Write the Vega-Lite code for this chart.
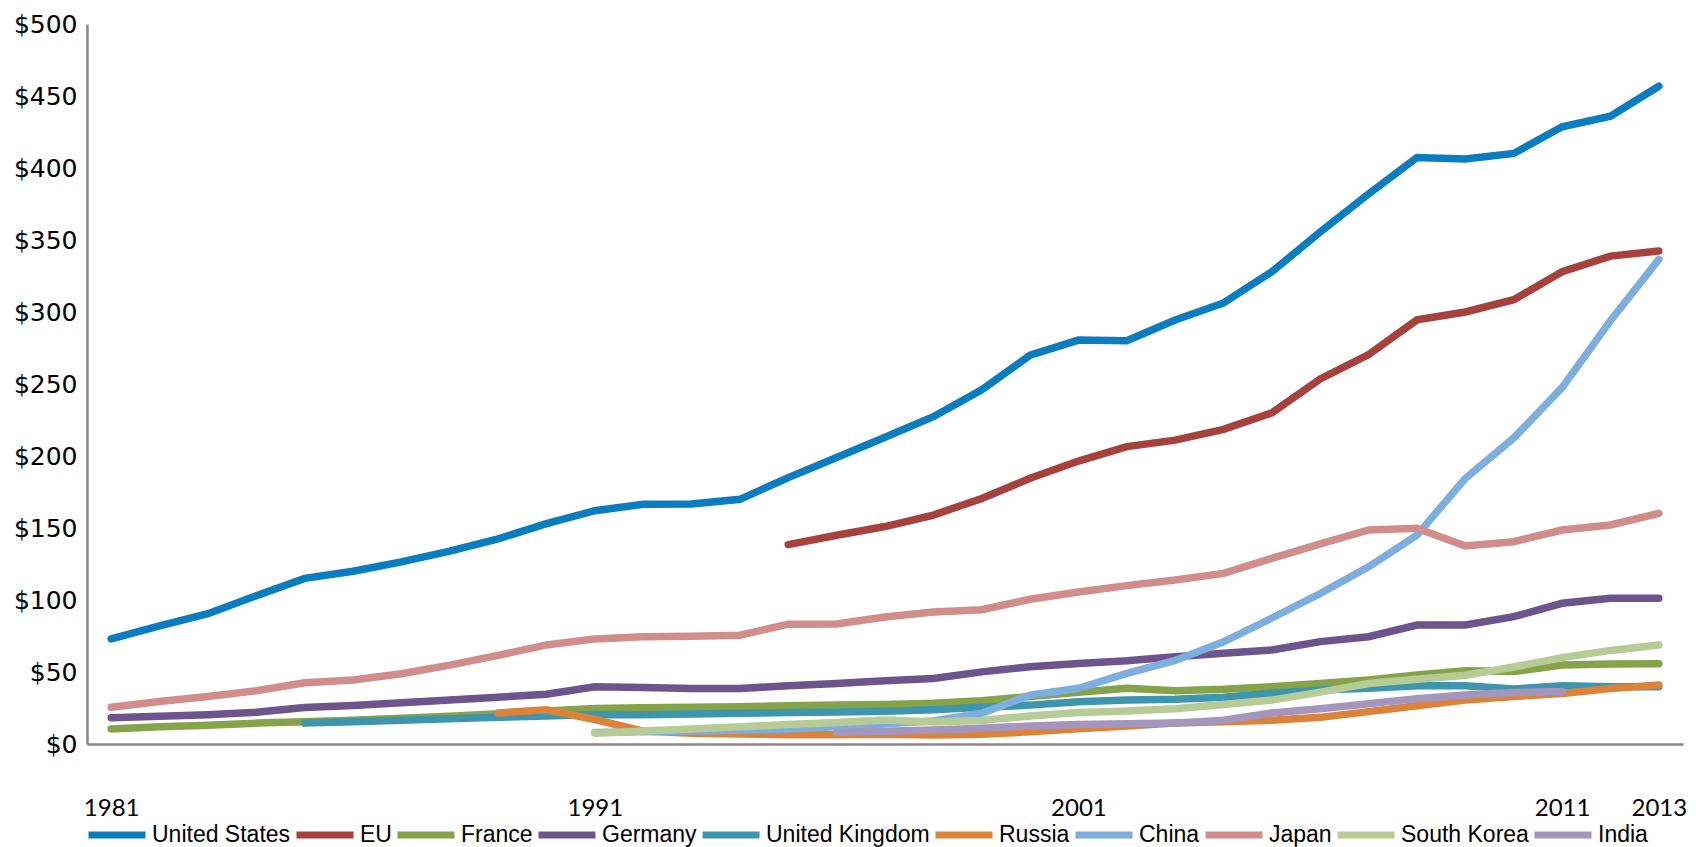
{
  "$schema": "https://vega.github.io/schema/vega-lite/v6.json",
  "width": 1596,
  "height": 720,
  "autosize": {"type": "none"},
  "padding": {"left": 87, "top": 24, "right": 13, "bottom": 103},
  "background": "white",
  "config": {"view": {"stroke": null}},
  "datasets": {
    "rd": [
      {"country":"United States","year":1981,"value":73},{"country":"United States","year":1982,"value":82},{"country":"United States","year":1983,"value":90.5},{"country":"United States","year":1984,"value":103},{"country":"United States","year":1985,"value":115},{"country":"United States","year":1986,"value":120},{"country":"United States","year":1987,"value":126.5},{"country":"United States","year":1988,"value":134},{"country":"United States","year":1989,"value":142.5},{"country":"United States","year":1990,"value":153},{"country":"United States","year":1991,"value":162},{"country":"United States","year":1992,"value":166.5},{"country":"United States","year":1993,"value":166.6},{"country":"United States","year":1994,"value":169.9},{"country":"United States","year":1995,"value":185},{"country":"United States","year":1996,"value":199},{"country":"United States","year":1997,"value":213},{"country":"United States","year":1998,"value":227.3},{"country":"United States","year":1999,"value":246},{"country":"United States","year":2000,"value":270},{"country":"United States","year":2001,"value":280.5},{"country":"United States","year":2002,"value":280},{"country":"United States","year":2003,"value":294.4},{"country":"United States","year":2004,"value":306.3},{"country":"United States","year":2005,"value":328},{"country":"United States","year":2006,"value":355.6},{"country":"United States","year":2007,"value":382},{"country":"United States","year":2008,"value":407.3},{"country":"United States","year":2009,"value":406.2},{"country":"United States","year":2010,"value":410.1},{"country":"United States","year":2011,"value":428.6},{"country":"United States","year":2012,"value":436},{"country":"United States","year":2013,"value":456.8},
      {"country":"EU","year":1995,"value":138.5},{"country":"EU","year":1996,"value":145},{"country":"EU","year":1997,"value":151},{"country":"EU","year":1998,"value":159},{"country":"EU","year":1999,"value":170.5},{"country":"EU","year":2000,"value":184.5},{"country":"EU","year":2001,"value":196.5},{"country":"EU","year":2002,"value":206.5},{"country":"EU","year":2003,"value":211},{"country":"EU","year":2004,"value":218.5},{"country":"EU","year":2005,"value":230},{"country":"EU","year":2006,"value":253.5},{"country":"EU","year":2007,"value":270.5},{"country":"EU","year":2008,"value":294.5},{"country":"EU","year":2009,"value":300},{"country":"EU","year":2010,"value":308.5},{"country":"EU","year":2011,"value":328},{"country":"EU","year":2012,"value":338.8},{"country":"EU","year":2013,"value":342.3},
      {"country":"France","year":1981,"value":10.5},{"country":"France","year":1982,"value":12},{"country":"France","year":1983,"value":13},{"country":"France","year":1984,"value":14.5},{"country":"France","year":1985,"value":15.5},{"country":"France","year":1986,"value":16.5},{"country":"France","year":1987,"value":17.8},{"country":"France","year":1988,"value":19.2},{"country":"France","year":1989,"value":21},{"country":"France","year":1990,"value":23},{"country":"France","year":1991,"value":24.7},{"country":"France","year":1992,"value":25.2},{"country":"France","year":1993,"value":25.6},{"country":"France","year":1994,"value":25.9},{"country":"France","year":1995,"value":26.5},{"country":"France","year":1996,"value":27},{"country":"France","year":1997,"value":27.5},{"country":"France","year":1998,"value":28.3},{"country":"France","year":1999,"value":30},{"country":"France","year":2000,"value":33},{"country":"France","year":2001,"value":36},{"country":"France","year":2002,"value":38.7},{"country":"France","year":2003,"value":37},{"country":"France","year":2004,"value":38},{"country":"France","year":2005,"value":39.8},{"country":"France","year":2006,"value":42.1},{"country":"France","year":2007,"value":44.4},{"country":"France","year":2008,"value":47.9},{"country":"France","year":2009,"value":50.9},{"country":"France","year":2010,"value":50.3},{"country":"France","year":2011,"value":54.9},{"country":"France","year":2012,"value":55.6},{"country":"France","year":2013,"value":55.7},
      {"country":"Germany","year":1981,"value":18.3},{"country":"Germany","year":1982,"value":19.3},{"country":"Germany","year":1983,"value":20.3},{"country":"Germany","year":1984,"value":22},{"country":"Germany","year":1985,"value":25.3},{"country":"Germany","year":1986,"value":26.8},{"country":"Germany","year":1987,"value":28.7},{"country":"Germany","year":1988,"value":30.5},{"country":"Germany","year":1989,"value":32.5},{"country":"Germany","year":1990,"value":34.5},{"country":"Germany","year":1991,"value":39.7},{"country":"Germany","year":1992,"value":39.3},{"country":"Germany","year":1993,"value":38.6},{"country":"Germany","year":1994,"value":38.6},{"country":"Germany","year":1995,"value":40.4},{"country":"Germany","year":1996,"value":42},{"country":"Germany","year":1997,"value":43.9},{"country":"Germany","year":1998,"value":45.5},{"country":"Germany","year":1999,"value":50.1},{"country":"Germany","year":2000,"value":53.6},{"country":"Germany","year":2001,"value":55.9},{"country":"Germany","year":2002,"value":57.8},{"country":"Germany","year":2003,"value":60.6},{"country":"Germany","year":2004,"value":63},{"country":"Germany","year":2005,"value":65.3},{"country":"Germany","year":2006,"value":71.1},{"country":"Germany","year":2007,"value":74.5},{"country":"Germany","year":2008,"value":82.6},{"country":"Germany","year":2009,"value":82.6},{"country":"Germany","year":2010,"value":88.4},{"country":"Germany","year":2011,"value":97.7},{"country":"Germany","year":2012,"value":101.2},{"country":"Germany","year":2013,"value":101.2},
      {"country":"United Kingdom","year":1985,"value":14.5},{"country":"United Kingdom","year":1986,"value":15.5},{"country":"United Kingdom","year":1987,"value":16.5},{"country":"United Kingdom","year":1988,"value":17.5},{"country":"United Kingdom","year":1989,"value":18.5},{"country":"United Kingdom","year":1990,"value":19.5},{"country":"United Kingdom","year":1991,"value":20.5},{"country":"United Kingdom","year":1992,"value":20.3},{"country":"United Kingdom","year":1993,"value":20.8},{"country":"United Kingdom","year":1994,"value":21.3},{"country":"United Kingdom","year":1995,"value":21.8},{"country":"United Kingdom","year":1996,"value":22.3},{"country":"United Kingdom","year":1997,"value":22.8},{"country":"United Kingdom","year":1998,"value":23.8},{"country":"United Kingdom","year":1999,"value":25.5},{"country":"United Kingdom","year":2000,"value":27},{"country":"United Kingdom","year":2001,"value":29.3},{"country":"United Kingdom","year":2002,"value":30.5},{"country":"United Kingdom","year":2003,"value":31},{"country":"United Kingdom","year":2004,"value":32.5},{"country":"United Kingdom","year":2005,"value":35.2},{"country":"United Kingdom","year":2006,"value":37.5},{"country":"United Kingdom","year":2007,"value":38.7},{"country":"United Kingdom","year":2008,"value":40.5},{"country":"United Kingdom","year":2009,"value":40.5},{"country":"United Kingdom","year":2010,"value":38.2},{"country":"United Kingdom","year":2011,"value":40.5},{"country":"United Kingdom","year":2012,"value":39.8},{"country":"United Kingdom","year":2013,"value":39.8},
      {"country":"Russia","year":1989,"value":21.5},{"country":"Russia","year":1990,"value":23.8},{"country":"Russia","year":1991,"value":17},{"country":"Russia","year":1992,"value":9},{"country":"Russia","year":1993,"value":7.5},{"country":"Russia","year":1994,"value":7},{"country":"Russia","year":1995,"value":6.5},{"country":"Russia","year":1996,"value":6.5},{"country":"Russia","year":1997,"value":6.8},{"country":"Russia","year":1998,"value":6.3},{"country":"Russia","year":1999,"value":6.8},{"country":"Russia","year":2000,"value":8.5},{"country":"Russia","year":2001,"value":10.5},{"country":"Russia","year":2002,"value":12.5},{"country":"Russia","year":2003,"value":14.5},{"country":"Russia","year":2004,"value":15.5},{"country":"Russia","year":2005,"value":16.5},{"country":"Russia","year":2006,"value":18.5},{"country":"Russia","year":2007,"value":22.5},{"country":"Russia","year":2008,"value":26.5},{"country":"Russia","year":2009,"value":30.5},{"country":"Russia","year":2010,"value":33},{"country":"Russia","year":2011,"value":35},{"country":"Russia","year":2012,"value":38.5},{"country":"Russia","year":2013,"value":41},
      {"country":"China","year":1991,"value":8},{"country":"China","year":1992,"value":8.5},{"country":"China","year":1993,"value":9},{"country":"China","year":1994,"value":9.5},{"country":"China","year":1995,"value":10.5},{"country":"China","year":1996,"value":12},{"country":"China","year":1997,"value":14},{"country":"China","year":1998,"value":16},{"country":"China","year":1999,"value":21.3},{"country":"China","year":2000,"value":34},{"country":"China","year":2001,"value":38.7},{"country":"China","year":2002,"value":49},{"country":"China","year":2003,"value":58},{"country":"China","year":2004,"value":71},{"country":"China","year":2005,"value":87.5},{"country":"China","year":2006,"value":104.5},{"country":"China","year":2007,"value":123},{"country":"China","year":2008,"value":145},{"country":"China","year":2009,"value":184.5},{"country":"China","year":2010,"value":212.5},{"country":"China","year":2011,"value":247.5},{"country":"China","year":2012,"value":294},{"country":"China","year":2013,"value":336.5},
      {"country":"Japan","year":1981,"value":25.5},{"country":"Japan","year":1982,"value":29.5},{"country":"Japan","year":1983,"value":33},{"country":"Japan","year":1984,"value":37},{"country":"Japan","year":1985,"value":42.5},{"country":"Japan","year":1986,"value":44.5},{"country":"Japan","year":1987,"value":48.8},{"country":"Japan","year":1988,"value":54.8},{"country":"Japan","year":1989,"value":61.5},{"country":"Japan","year":1990,"value":68.8},{"country":"Japan","year":1991,"value":73},{"country":"Japan","year":1992,"value":74.4},{"country":"Japan","year":1993,"value":74.8},{"country":"Japan","year":1994,"value":75.5},{"country":"Japan","year":1995,"value":83.2},{"country":"Japan","year":1996,"value":83.4},{"country":"Japan","year":1997,"value":88.2},{"country":"Japan","year":1998,"value":91.7},{"country":"Japan","year":1999,"value":93.3},{"country":"Japan","year":2000,"value":100.5},{"country":"Japan","year":2001,"value":105.5},{"country":"Japan","year":2002,"value":110},{"country":"Japan","year":2003,"value":113.9},{"country":"Japan","year":2004,"value":118.5},{"country":"Japan","year":2005,"value":128.9},{"country":"Japan","year":2006,"value":139},{"country":"Japan","year":2007,"value":148.6},{"country":"Japan","year":2008,"value":149.8},{"country":"Japan","year":2009,"value":137.5},{"country":"Japan","year":2010,"value":140.5},{"country":"Japan","year":2011,"value":148.6},{"country":"Japan","year":2012,"value":152.1},{"country":"Japan","year":2013,"value":160.2},
      {"country":"South Korea","year":1991,"value":7.5},{"country":"South Korea","year":1992,"value":9},{"country":"South Korea","year":1993,"value":10.5},{"country":"South Korea","year":1994,"value":12},{"country":"South Korea","year":1995,"value":13.5},{"country":"South Korea","year":1996,"value":15},{"country":"South Korea","year":1997,"value":16.6},{"country":"South Korea","year":1998,"value":15.2},{"country":"South Korea","year":1999,"value":16.3},{"country":"South Korea","year":2000,"value":19.5},{"country":"South Korea","year":2001,"value":21.8},{"country":"South Korea","year":2002,"value":23},{"country":"South Korea","year":2003,"value":24.5},{"country":"South Korea","year":2004,"value":27.5},{"country":"South Korea","year":2005,"value":30.5},{"country":"South Korea","year":2006,"value":36},{"country":"South Korea","year":2007,"value":42},{"country":"South Korea","year":2008,"value":45},{"country":"South Korea","year":2009,"value":47.8},{"country":"South Korea","year":2010,"value":53.5},{"country":"South Korea","year":2011,"value":60},{"country":"South Korea","year":2012,"value":65},{"country":"South Korea","year":2013,"value":68.8},
      {"country":"India","year":1996,"value":8},{"country":"India","year":1997,"value":8.8},{"country":"India","year":1998,"value":9.8},{"country":"India","year":1999,"value":11},{"country":"India","year":2000,"value":12.5},{"country":"India","year":2001,"value":13.5},{"country":"India","year":2002,"value":14},{"country":"India","year":2003,"value":14.5},{"country":"India","year":2004,"value":16.5},{"country":"India","year":2005,"value":21.5},{"country":"India","year":2006,"value":24.5},{"country":"India","year":2007,"value":28},{"country":"India","year":2008,"value":31.5},{"country":"India","year":2009,"value":34},{"country":"India","year":2010,"value":35.8},{"country":"India","year":2011,"value":36.5}
    ]
  },
  "data": {"name": "rd"},
  "mark": {"type": "line", "strokeWidth": 7.5, "strokeCap": "round", "strokeJoin": "miter"},
  "encoding": {
    "x": {
      "field": "year", "type": "quantitative",
      "scale": {"domain": [1980.5, 2013.5], "nice": false, "zero": false},
      "axis": {
        "values": [1981, 1991, 2001, 2011, 2013], "format": "d", "title": null,
        "grid": false, "ticks": false, "domainColor": "#878787", "domainWidth": 2.5,
        "labelFont": "Lato", "labelFontSize": 24, "labelColor": "#000000",
        "labelPadding": 52, "labelFlush": false, "labelOverlap": false
      }
    },
    "y": {
      "field": "value", "type": "quantitative",
      "scale": {"domain": [0, 500], "nice": false},
      "axis": {
        "values": [0, 50, 100, 150, 200, 250, 300, 350, 400, 450, 500],
        "labelExpr": "'$' + datum.value", "title": null,
        "grid": false, "ticks": false, "domainColor": "#878787", "domainWidth": 2.5,
        "labelFont": "DejaVu Sans", "labelFontSize": 25, "labelColor": "#000000", "labelPadding": 10
      }
    },
    "color": {
      "field": "country", "type": "nominal",
      "scale": {
        "domain": ["United States", "EU", "France", "Germany", "United Kingdom", "Russia", "China", "Japan", "South Korea", "India"],
        "range": ["#0A7DC0", "#A6413E", "#86A34A", "#6E548D", "#3D96AE", "#DB833A", "#7EAEDD", "#D08D8C", "#B6CB95", "#A596BD"]
      },
      "legend": {
        "orient": "none", "legendX": -2, "legendY": 779,
        "direction": "horizontal", "columns": 10, "title": null,
        "symbolType": "stroke", "symbolSize": 3249, "symbolStrokeWidth": 7,
        "labelFont": "Liberation Sans", "labelFontSize": 23, "labelColor": "#000000",
        "labelOffset": 3, "columnPadding": -9, "labelLimit": 400
      }
    }
  }
}
